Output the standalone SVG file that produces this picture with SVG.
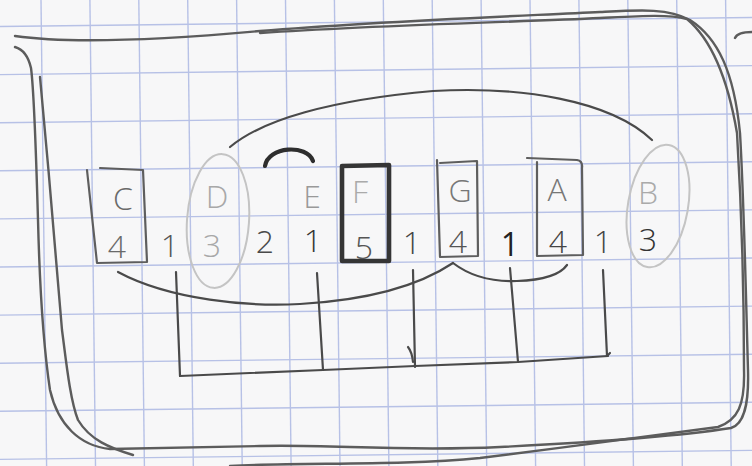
<svg xmlns="http://www.w3.org/2000/svg" width="752" height="466" viewBox="0 0 752 466">
<style>
.grid line{stroke:#b7c1e6;stroke-width:1.4}
.frame{fill:none;stroke:#5c5c5c;stroke-width:2.4;stroke-linecap:round;stroke-linejoin:round}
.ln{fill:none;stroke:#4a4a4a;stroke-width:2.2;stroke-linecap:round;stroke-linejoin:round}
.box{fill:none;stroke:#5e5e5e;stroke-width:2.2;stroke-linecap:round;stroke-linejoin:round}
.ell{fill:none;stroke:#c4c4c4;stroke-width:2}
text{font-family:"Open Sans","Liberation Sans",sans-serif;font-weight:300;font-size:32px;text-anchor:middle}
</style>
<rect width="752" height="466" fill="#f7f7f8"/>
<g class="grid">
<line x1="41" y1="0" x2="46.6" y2="466"/>
<line x1="89.9" y1="0" x2="95.5" y2="466"/>
<line x1="138.8" y1="0" x2="144.4" y2="466"/>
<line x1="187.7" y1="0" x2="193.3" y2="466"/>
<line x1="236.6" y1="0" x2="242.2" y2="466"/>
<line x1="285.5" y1="0" x2="291.1" y2="466"/>
<line x1="334.4" y1="0" x2="340" y2="466"/>
<line x1="383.3" y1="0" x2="388.9" y2="466"/>
<line x1="432.2" y1="0" x2="437.8" y2="466"/>
<line x1="481.1" y1="0" x2="486.7" y2="466"/>
<line x1="530" y1="0" x2="535.6" y2="466"/>
<line x1="578.9" y1="0" x2="584.5" y2="466"/>
<line x1="627.8" y1="0" x2="633.4" y2="466"/>
<line x1="676.7" y1="0" x2="682.3" y2="466"/>
<line x1="725.6" y1="0" x2="731.2" y2="466"/>
<line x1="0" y1="26.5" x2="752" y2="17.5"/>
<line x1="0" y1="74.6" x2="752" y2="65.6"/>
<line x1="0" y1="122.7" x2="752" y2="113.7"/>
<line x1="0" y1="170.8" x2="752" y2="161.8"/>
<line x1="0" y1="218.9" x2="752" y2="209.9"/>
<line x1="0" y1="267" x2="752" y2="258"/>
<line x1="0" y1="315.1" x2="752" y2="306.1"/>
<line x1="0" y1="363.2" x2="752" y2="354.2"/>
<line x1="0" y1="411.3" x2="752" y2="402.3"/>
<line x1="0" y1="459.4" x2="752" y2="450.4"/>
</g>
<g id="frame">
<path class="frame" d="M15,36 C70,44 160,40 260,31 C380,21 520,16 600,12 C640,10 668,8 690,20 C718,38 734,72 740,133 C744,200 746,300 748,370 C749,405 744,424 731,428 C680,436 600,442 500,447 C400,452 330,444 260,446 C200,447 150,448 110,449 C80,446 58,425 50,390 C44,350 40,300 38,220 C36,150 34,90 31,68 C28,55 22,49 15,47"/>
<path class="frame" d="M260,33 C380,25 520,22 600,18 C640,16 668,14 687,19 C712,40 728,80 737,133 C741,200 744,300 744,370 C745,405 738,420 718,427 C650,436 560,448 480,458 C400,466 300,462 230,466"/>
<path class="frame" d="M133,455 C110,448 90,440 78,420 C70,400 66,360 62,330 C56,260 48,160 40,77"/>
<path class="frame" d="M735,38 C737,33 744,32 752,32"/>
</g>
<g id="C">
<path class="box" d="M87,170 L97,263 L147,262 L143,170 L100,168"/>
<text x="123" y="210" fill="#6a6a6a">C</text>
<text x="117" y="258" fill="#6a6a6a">4</text>
</g>
<g id="D">
<ellipse class="ell" cx="218" cy="221" rx="31" ry="67" transform="rotate(4 218 221)"/>
<text x="217" y="208" fill="#a8a8a8">D</text>
<text x="212" y="257" fill="#a8a8a8">3</text>
</g>
<g id="E">
<text x="312" y="208" fill="#999">E</text>
</g>
<g id="F">
<path d="M342,166 L389,165 L389,261 L342,261 Z" fill="none" stroke="#353535" stroke-width="4.6" stroke-linejoin="round"/>
<text x="360" y="203" fill="#aaa">F</text>
<text x="364" y="259" fill="#555">5</text>
</g>
<g id="G">
<path class="box" d="M437,160 L440,257 L478,256 L477,161 L440,163"/>
<text x="460" y="202" fill="#777">G</text>
<text x="458" y="253" fill="#555">4</text>
</g>
<g id="A">
<path class="box" d="M527,158 L577,160 Q583,161 582,168 L583,255 L537,256 L537,162"/>
<text x="557" y="201" fill="#777">A</text>
<text x="558" y="253" fill="#454545">4</text>
</g>
<g id="B">
<ellipse class="ell" cx="658" cy="206" rx="30" ry="62" transform="rotate(10 658 206)"/>
<text x="648" y="204" fill="#aaa">B</text>
<text x="648" y="251" fill="#333">3</text>
</g>
<g id="weights">
<text x="170" y="257" fill="#555">1</text>
<text x="265" y="253" fill="#4a4a4a">2</text>
<text x="313" y="252" fill="#333">1</text>
<text x="412" y="254" fill="#444">1</text>
<text x="510" y="256" fill="#222" style="font-weight:400">1</text>
<text x="603" y="253" fill="#444">1</text>
</g>
<g id="connectors">
<path class="ln" d="M230,147 C262,120 330,100 433,91 C520,86 610,100 652,140"/>
<path d="M265,166 C268,146 307,144 313,161" fill="none" stroke="#2e2e2e" stroke-width="4.2" stroke-linecap="round"/>
<path class="ln" d="M118,272 C170,300 250,307 300,304 C370,300 420,285 453,263"/>
<path class="ln" d="M453,263 C470,276 492,282 517,281 C545,280 560,275 567,265"/>
<path class="ln" d="M176,272 L180,376"/>
<path class="ln" d="M317,273 L323,370"/>
<path class="ln" d="M413,270 L415,367"/>
<path class="ln" d="M408,347 Q412,352 413,362"/>
<path class="ln" d="M510,268 L518,362"/>
<path class="ln" d="M603,270 L607,356 L610,353"/>
<path class="ln" d="M180,376 L250,373 L323,370 L415,366 L518,362 L608,356"/>
</g>
</svg>
